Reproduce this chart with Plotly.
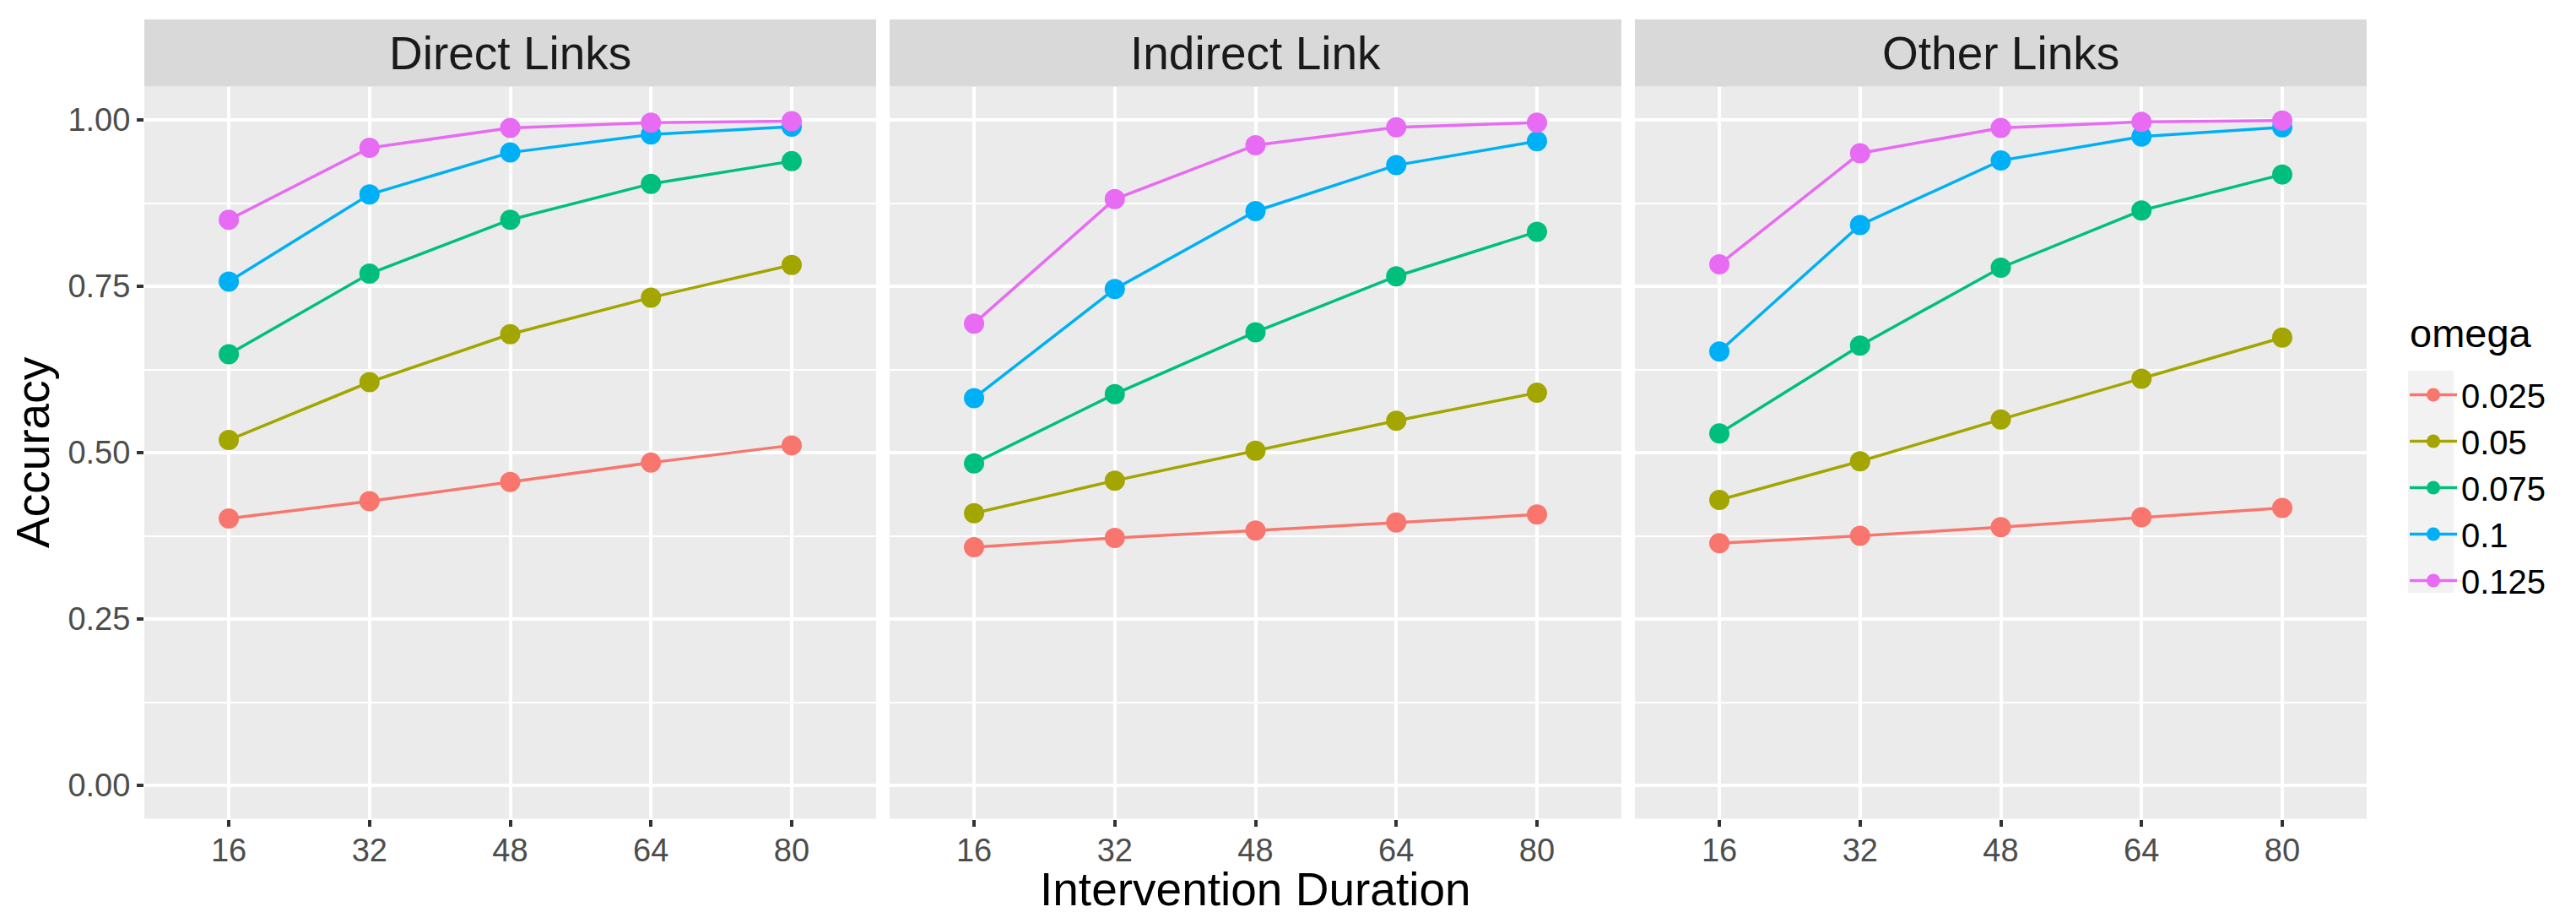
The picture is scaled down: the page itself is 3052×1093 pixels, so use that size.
import plotly.graph_objects as go

# ---------------- data ----------------
durations = ["16", "32", "48", "64", "80"]
panels = ["Direct Links", "Indirect Link", "Other Links"]
omegas = ["0.025", "0.05", "0.075", "0.1", "0.125"]
colors = ["#F8766D", "#A3A500", "#00BF7D", "#00B0F6", "#E76BF3"]

# accuracy per omega (rows) and duration (columns)
direct_links = [
    [0.401, 0.427, 0.456, 0.485, 0.511],
    [0.519, 0.606, 0.678, 0.733, 0.782],
    [0.648, 0.769, 0.850, 0.904, 0.938],
    [0.757, 0.888, 0.951, 0.978, 0.990],
    [0.850, 0.958, 0.988, 0.996, 0.998],
]
indirect_link = [
    [0.358, 0.372, 0.383, 0.395, 0.407],
    [0.409, 0.458, 0.503, 0.548, 0.590],
    [0.484, 0.588, 0.681, 0.765, 0.832],
    [0.582, 0.746, 0.863, 0.932, 0.968],
    [0.694, 0.881, 0.962, 0.989, 0.996],
]
other_links = [
    [0.364, 0.375, 0.388, 0.403, 0.417],
    [0.429, 0.487, 0.550, 0.611, 0.673],
    [0.529, 0.661, 0.778, 0.864, 0.918],
    [0.652, 0.842, 0.939, 0.975, 0.989],
    [0.783, 0.950, 0.988, 0.997, 0.999],
]
panel_data = [direct_links, indirect_link, other_links]

y_tickvals = [0, 0.25, 0.5, 0.75, 1.0]
y_ticktext = ["0.00", "0.25", "0.50", "0.75", "1.00"]
y_minor = [0.125, 0.375, 0.625, 0.875]

# ---------------- layout helpers ----------------
W, H = 3052, 1093
OFF = 8                       # default page body margin
FW, FH = W - 2 * OFF, H - 2 * OFF
FONT = "Liberation Sans, Arial, sans-serif"


def px_x(p):
    return (p - OFF) / FW


def px_y(p):
    return 1 - (p - OFF) / FH


panel_px = [(171, 1038), (1054, 1921), (1937, 2804)]
panel_top, panel_bottom = 102.6, 969.5
strip_top = 23

fig = go.Figure()

for pi, (name, data) in enumerate(zip(panels, panel_data)):
    xa = "x" if pi == 0 else f"x{pi + 1}"
    ya = "y" if pi == 0 else f"y{pi + 1}"
    for si, (om, col) in enumerate(zip(omegas, colors)):
        fig.add_trace(go.Scatter(
            x=durations, y=data[si], xaxis=xa, yaxis=ya,
            mode="lines+markers", name=om, legendgroup=om,
            showlegend=(pi == 0),
            line=dict(color=col, width=3.5),
            marker=dict(color=col, size=24),
        ))

layout = dict(
    width=FW, height=FH,
    margin=dict(l=0, r=0, t=0, b=0),
    paper_bgcolor="white",
    plot_bgcolor="#EBEBEB",
    font=dict(family=FONT, color="black"),
    showlegend=True,
    shapes=[], annotations=[],
)

for pi, (x0, x1) in enumerate(panel_px):
    sfx = "" if pi == 0 else str(pi + 1)
    layout["xaxis" + sfx] = dict(
        domain=[px_x(x0), px_x(x1)], anchor="y" + sfx,
        type="category", categoryorder="array", categoryarray=durations,
        range=[-0.6, 4.6],
        showgrid=True, gridcolor="white", gridwidth=4,
        zeroline=False, showline=False,
        ticks="outside", ticklen=8, tickwidth=4, tickcolor="#333333",
        ticklabelstandoff=-4,
        tickfont=dict(size=38, color="#4D4D4D", family=FONT),
    )
    layout["yaxis" + sfx] = dict(
        domain=[px_y(panel_bottom), px_y(panel_top)], anchor="x" + sfx,
        range=[-0.05, 1.05],
        tickmode="array", tickvals=y_tickvals, ticktext=y_ticktext,
        showticklabels=(pi == 0),
        ticks="outside" if pi == 0 else "", ticklen=8, tickwidth=4, tickcolor="#333333",
        tickfont=dict(size=38, color="#4D4D4D", family=FONT),
        showgrid=True, gridcolor="white", gridwidth=4,
        minor=dict(tickmode="array", tickvals=y_minor, showgrid=True,
                   gridcolor="white", gridwidth=2, ticks=""),
        zeroline=False, showline=False,
    )
    # strip
    layout["shapes"].append(dict(
        type="rect", xref="paper", yref="paper",
        x0=px_x(x0), x1=px_x(x1), y0=px_y(panel_top), y1=px_y(strip_top),
        fillcolor="#D9D9D9", line=dict(width=0), layer="below",
    ))
    layout["annotations"].append(dict(
        text=panels[pi], xref="paper", yref="paper",
        x=px_x((x0 + x1) / 2), y=px_y((strip_top + panel_top) / 2),
        xanchor="center", yanchor="middle", showarrow=False,
        font=dict(size=55, color="#1A1A1A", family=FONT),
    ))

# axis titles
layout["annotations"].append(dict(
    text="Accuracy", xref="paper", yref="paper",
    x=px_x(39), y=px_y((panel_top + panel_bottom) / 2),
    xanchor="center", yanchor="middle", textangle=-90, showarrow=False,
    font=dict(size=55, color="black", family=FONT),
))
layout["annotations"].append(dict(
    text="Intervention Duration", xref="paper", yref="paper",
    x=px_x((panel_px[1][0] + panel_px[1][1]) / 2), y=px_y(1053),
    xanchor="center", yanchor="middle", showarrow=False,
    font=dict(size=55, color="black", family=FONT),
))

# legend title
layout["annotations"].append(dict(
    text="omega", xref="paper", yref="paper",
    x=px_x(2853), y=px_y(394),
    xanchor="left", yanchor="middle", showarrow=False,
    font=dict(size=47, color="black", family=FONT),
))

# legend key background
layout["shapes"].append(dict(
    type="rect", xref="paper", yref="paper",
    x0=px_x(2853), x1=px_x(2907), y0=px_y(702), y1=px_y(439),
    fillcolor="#F2F2F2", line=dict(width=0), layer="below",
))

layout["legend"] = dict(
    font=dict(size=40, color="black", family=FONT),
    x=px_x(2850), xanchor="left",
    y=px_y(435), yanchor="top",
    bgcolor="rgba(0,0,0,0)", borderwidth=0,
    itemwidth=56, tracegroupgap=0,
)

fig.update_layout(**layout)
fig.write_html("out.html")
